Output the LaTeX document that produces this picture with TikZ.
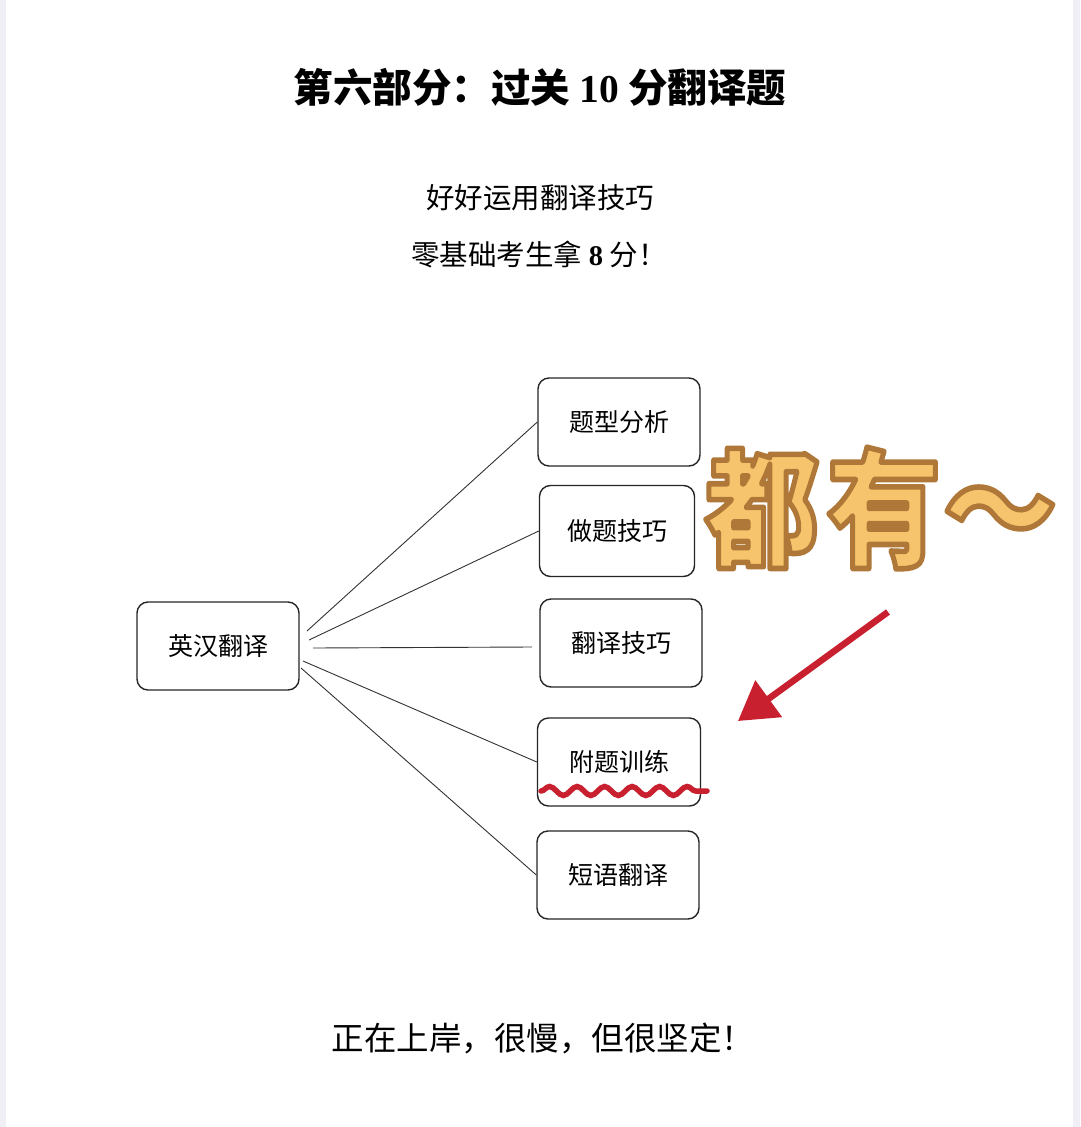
\documentclass[tikz,border=0pt]{standalone}
\usepackage{fontspec}
\usetikzlibrary{arrows.meta,decorations.pathmorphing,calc}
\newfontfamily\cjk{Noto Sans CJK SC}
\newfontfamily\lser{Liberation Serif}
\definecolor{edgegray}{HTML}{EFEFF5}
\definecolor{handfill}{HTML}{F6C46C}
\definecolor{handline}{HTML}{B07838}
\definecolor{markred}{HTML}{C8202F}
\newcommand\outlinedtext[1]{\special{pdf:literal direct 2 Tr 5 w 1 j 0.69 0.47 0.22 RG}#1\special{pdf:literal direct 0 Tr 1 w}}
\begin{document}
\begin{tikzpicture}[x=1pt,y=-1pt,
  box/.style={draw=black!85, line width=1.4pt, rounded corners=11pt, minimum width=162pt, minimum height=88pt, inner sep=0pt, font={\cjk\fontsize{25}{29}\selectfont}},
  link/.style={draw=black!80, line width=0.9pt},
  hand/.style={font={\cjk\bfseries\fontsize{114}{130}\selectfont}, inner sep=0pt, yscale=1.12}]
\useasboundingbox (0,0) rectangle (1080,1127);
\fill[white] (0,0) rectangle (1080,1127);
\fill[edgegray] (0,0) rectangle (6,1127);
\fill[edgegray] (1073,0) rectangle (1080,1127);

% titles
\node (title) at (540,87) {\cjk\bfseries\fontsize{39.5}{44}\selectfont 第六部分：过关 {\lser\bfseries 10} 分翻译题};
\node (sub1) at (540,198) {\cjk\fontsize{28.5}{32}\selectfont 好好运用翻译技巧};
\node (sub2) at (539,254) {\cjk\fontsize{28.5}{32}\selectfont 零基础考生拿 {\lser\bfseries 8} 分！};
\node (foot) at (543,1038) {\cjk\fontsize{32.5}{36}\selectfont 正在上岸，很慢，但很坚定！};

% boxes
\node[box] (main) at (218,646) {英汉翻译};
\node[box] (t1) at (619,422) {题型分析};
\node[box, minimum width=155pt, minimum height=91pt] (t2) at (617,531) {做题技巧};
\node[box] (t3) at (621,643) {翻译技巧};
\node[box, minimum width=163pt] (t4) at (619,762) {附题训练};
\node[box] (t5) at (618,875) {短语翻译};

% connector starts
\coordinate (s1) at (307,631);
\coordinate (s2) at (309,640);
\coordinate (s3) at (313,648);
\coordinate (s4) at (303,661);
\coordinate (s5) at (301,668);
\coordinate (e3) at (532,647);
\draw[link] (s1) -- (t1.west);
\draw[link] (s2) -- (t2.west);
\draw[link] (s3) -- (e3);
\draw[link] (s4) -- (t4.west);
\draw[link] (s5) -- (t5.west);

% wavy underline
\coordinate (w1) at (541,791);
\coordinate (w2) at (707,791);
\draw[markred, line width=5.5pt, line cap=round, decorate, decoration={snake, segment length=27.5pt, amplitude=4.5pt}] (w1) -- (w2);

% handwritten text
\node[hand, text=handfill] (hw) at (881,508) {\outlinedtext{都\hspace{8pt}有\hspace{2pt}～}};

% red arrow
\coordinate (as) at (888,612);
\coordinate (ae) at (738,721);
\draw[markred, line width=6.5pt, -{Triangle[length=38pt,width=44pt]}] (as) -- (ae);
\end{tikzpicture}
\end{document}
